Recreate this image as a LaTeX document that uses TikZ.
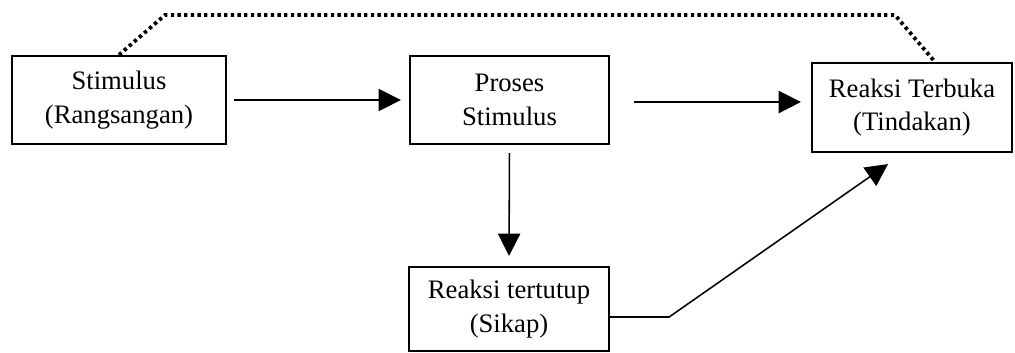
\documentclass[tikz,border=0pt]{standalone}
\usepackage{fontspec}
\setmainfont{Liberation Serif}
\usetikzlibrary{arrows.meta, calc}

\begin{document}
\begin{tikzpicture}[x=0.45pt, y=-0.45pt,
  box/.style={draw, line width=1pt, inner sep=0pt, align=center,
    font=\fontsize{12}{15}\selectfont},
  arr/.style={line width=0.7pt, -{Triangle[length=10pt, width=10pt]}},
  dots/.style={line width=1.7pt, dash pattern=on 1.5pt off 1.5pt}]

  \useasboundingbox (0, 0) rectangle (1015, 352);

  \node[box, minimum width=96.3pt, minimum height=39.6pt] (stim) at (119, 100)
    {Stimulus\\(Rangsangan)};
  \node[box, minimum width=89.6pt, minimum height=39.6pt] (proses) at (509.5, 100)
    {Proses\\Stimulus};
  \node[box, minimum width=90pt, minimum height=40pt] (terbuka) at (912, 107.5)
    {Reaksi Terbuka\\(Tindakan)};
  \node[box, minimum width=90pt, minimum height=37.8pt] (tertutup) at (509, 309)
    {Reaksi tertutup\\(Sikap)};

  \draw[arr, shorten <=3pt, shorten >=3.6pt] (stim.east) -- (proses.west);
  \draw[arr, shorten <=10.8pt, shorten >=4.5pt] ($(proses.east)+(0,2)$) -- ($(terbuka.west |- proses.east)+(0,2)$);
  \draw[arr, shorten <=3.6pt, shorten >=4.5pt] (proses.south) -- (tertutup.north);

  \coordinate (bend) at ($(tertutup.east)+(59, 8)$);
  \coordinate (tip) at ($(terbuka.south)+(-24, 11)$);
  \draw[arr] ($(tertutup.east)+(0, 8)$) -- (bend) -- (tip);

  % feedback
  \coordinate (up1) at (165, 15);
  \coordinate (up2) at (895, 15);
  \draw[dots] (stim.north) -- (up1) -- (up2) -- ($(terbuka.north)+(23, 0)$);

\end{tikzpicture}
\end{document}
